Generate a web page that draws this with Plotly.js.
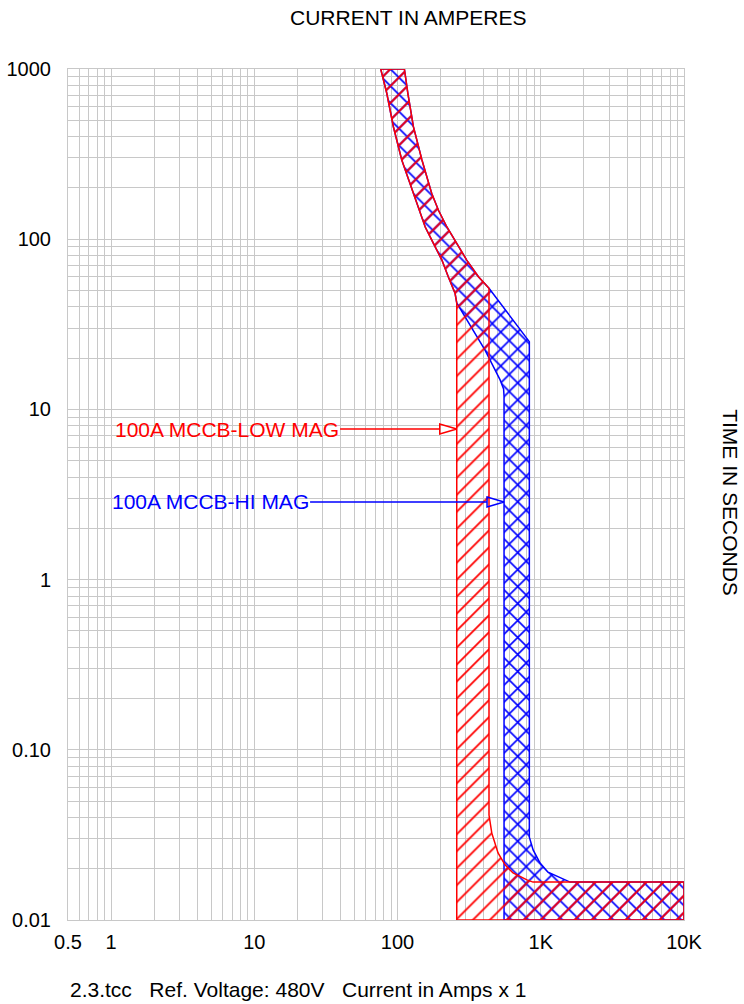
<!DOCTYPE html>
<html>
<head>
<meta charset="utf-8">
<script src="https://cdn.plot.ly/plotly-3.0.1.min.js"></script>
<style>html,body{margin:0;padding:0;background:#fff;}</style>
</head>
<body>
<div id="chart" style="width:744px;height:1004px;"></div>
<script>
// ---- data (current in amps, time in seconds) ----
// shared long-time band: minimum (left) and maximum (right) curves, top -> knee
const bandLeftI  = [76.3, 84.1, 93.5, 107, 129, 156, 178, 204, 226, 252, 259];
const bandLeftT  = [1000, 720, 458, 292, 186, 118, 94.6, 75.4, 60.2, 48.1, 42.2];
const bandRightI = [111.6, 118, 129, 148, 173, 193, 221, 259, 304, 367, 435];
const bandRightT = [1000, 720, 458, 292, 186, 148, 118, 94.6, 75.4, 60.2, 51.5];

// LOW MAG instantaneous section
const lowPickupI = 259;
const lowClearI  = [435, 455, 503, 563, 640, 801, 883];
const lowClearT  = [0.0414, 0.0324, 0.0248, 0.0211, 0.0189, 0.0172, 0.0167];

// HI MAG instantaneous section
const hiLeftI  = [408, 520, 550, 554];
const hiLeftT  = [22.3, 14.9, 13.2, 12.0];
const hiCornerI = 832;
const hiCornerT = 25;
const hiClearI = [832, 884, 989, 1124, 1365, 1602];
const hiClearT = [0.0307, 0.0258, 0.0216, 0.0191, 0.0177, 0.0167];

const maxI = 10000;
const minT = 0.01;
const floorT = 0.0167;

// labels with arrows
const labelText  = ['100A MCCB-LOW MAG', '100A MCCB-HI MAG'];
const labelColor = ['#ff0000', '#0000ff'];
const labelStartI = [39.7, 24.5];
const labelTipI   = [259, 554];
const labelT      = [7.67, 2.86];

// axis tick labels
const xTickVals = [0.5, 1, 10, 100, 1000, 10000];
const xTickText = ['0.5', '1', '10', '100', '1K', '10K'];
const yTickVals = [0.01, 0.1, 1, 10, 100, 1000];
const yTickText = ['0.01', '0.10', '1', '10', '100', '1000'];

// ---- build polygons ----
const rev = a => a.slice().reverse();

const lowX = [...bandLeftI, lowPickupI, maxI, maxI, ...rev(lowClearI), ...rev(bandRightI), bandLeftI[0]];
const lowY = [...bandLeftT, minT, minT, floorT, ...rev(lowClearT), ...rev(bandRightT), bandLeftT[0]];

const hiX = [...bandLeftI, ...hiLeftI, hiLeftI[hiLeftI.length-1], maxI, maxI, ...rev(hiClearI), hiCornerI, ...rev(bandRightI), bandLeftI[0]];
const hiY = [...bandLeftT, ...hiLeftT, minT, minT, floorT, ...rev(hiClearT), hiCornerT, ...rev(bandRightT), bandLeftT[0]];

// ---- grid tick positions (every 1..9 per decade) ----
function gridVals(lo, hi) {
  const out = [];
  for (let e = Math.floor(Math.log10(lo)); e <= Math.ceil(Math.log10(hi)); e++) {
    for (let d = 1; d <= 9; d++) {
      const v = parseFloat((d * Math.pow(10, e)).toPrecision(6));
      if (v >= lo * 0.999 && v <= hi * 1.001) out.push(v);
    }
  }
  return out;
}
function labelsFor(vals, tv, tt) {
  return vals.map(v => {
    const i = tv.findIndex(t => Math.abs(t - v) / t < 1e-6);
    return i >= 0 ? tt[i] : '';
  });
}
const xGrid = gridVals(0.5, 10000);
const yGrid = gridVals(0.01, 1000);

const FONT = 'Liberation Sans, Arial, sans-serif';

const traces = [
  {
    x: hiX, y: hiY, type: 'scatter', mode: 'lines', fill: 'toself',
    line: {color: '#0000ff', width: 1.5},
    fillcolor: 'rgba(0,0,0,0)',
    fillpattern: {shape: 'x', fgcolor: '#0000ff', bgcolor: 'rgba(0,0,0,0)', size: 12, solidity: 0.25},
    hoverinfo: 'skip', showlegend: false
  },
  {
    x: lowX, y: lowY, type: 'scatter', mode: 'lines', fill: 'toself',
    line: {color: '#ff0000', width: 1.5},
    fillcolor: 'rgba(0,0,0,0)',
    fillpattern: {shape: '/', fgcolor: '#ff0000', bgcolor: 'rgba(0,0,0,0)', size: 12, solidity: 0.15},
    hoverinfo: 'skip', showlegend: false
  }
];

// arrow lines with open triangular heads
const headLen = Math.pow(10, 17 / 143.2);
const headHalf = Math.pow(10, 5 / 170.2);
const annotations = [];
for (let k = 0; k < labelText.length; k++) {
  const base = labelTipI[k] / headLen;
  traces.push({
    x: [labelStartI[k], base, base, labelTipI[k], base, base],
    y: [labelT[k], labelT[k], labelT[k] * headHalf, labelT[k], labelT[k] / headHalf, labelT[k]],
    type: 'scatter', mode: 'lines', line: {color: labelColor[k], width: 1.5},
    hoverinfo: 'skip', showlegend: false
  });
  annotations.push({
    x: Math.log10(labelStartI[k]), y: Math.log10(labelT[k]), xref: 'x', yref: 'y',
    text: labelText[k], showarrow: false, xanchor: 'right', yanchor: 'middle',
    xshift: 1,
    font: {family: FONT, size: 21, color: labelColor[k]}
  });
}

annotations.push({
  text: 'CURRENT IN AMPERES', xref: 'paper', yref: 'paper', x: 0.552, y: 1.06,
  xanchor: 'center', yanchor: 'middle', showarrow: false,
  font: {family: FONT, size: 21, color: '#000'}
});
annotations.push({
  text: 'TIME IN SECONDS', xref: 'paper', yref: 'paper', x: 1.076, y: 0.49,
  xanchor: 'center', yanchor: 'middle', showarrow: false, textangle: 90,
  font: {family: FONT, size: 21, color: '#000'}
});
annotations.push({
  text: '2.3.tcc   Ref. Voltage: 480V   Current in Amps x 1', xref: 'paper', yref: 'paper',
  x: 0, y: -0.082, xanchor: 'left', yanchor: 'middle', showarrow: false,
  font: {family: FONT, size: 21, color: '#000'}
});

const gridColor = '#c8c8c8';
const layout = {
  width: 744, height: 1004,
  margin: {l: 68, r: 60, t: 69, b: 84},
  paper_bgcolor: '#fff', plot_bgcolor: '#fff',
  font: {family: FONT, size: 20, color: '#000'},
  xaxis: {
    type: 'log', range: [Math.log10(0.5), 4], autorange: false,
    tickmode: 'array', tickvals: xGrid, ticktext: labelsFor(xGrid, xTickVals, xTickText),
    showgrid: true, gridcolor: gridColor, gridwidth: 1, zeroline: false,
    showline: true, linecolor: gridColor, linewidth: 1, mirror: true,
    ticks: '', tickfont: {size: 20}, ticklabelstandoff: 4
  },
  yaxis: {
    type: 'log', range: [-2, 3], autorange: false,
    tickmode: 'array', tickvals: yGrid, ticktext: labelsFor(yGrid, yTickVals, yTickText),
    showgrid: true, gridcolor: gridColor, gridwidth: 1, zeroline: false,
    showline: true, linecolor: gridColor, linewidth: 1, mirror: true,
    ticks: '', tickfont: {size: 20}, ticklabelstandoff: 12
  },
  annotations: annotations,
  showlegend: false
};

Plotly.newPlot('chart', traces, layout, {displayModeBar: false, staticPlot: true});
</script>
</body>
</html>
